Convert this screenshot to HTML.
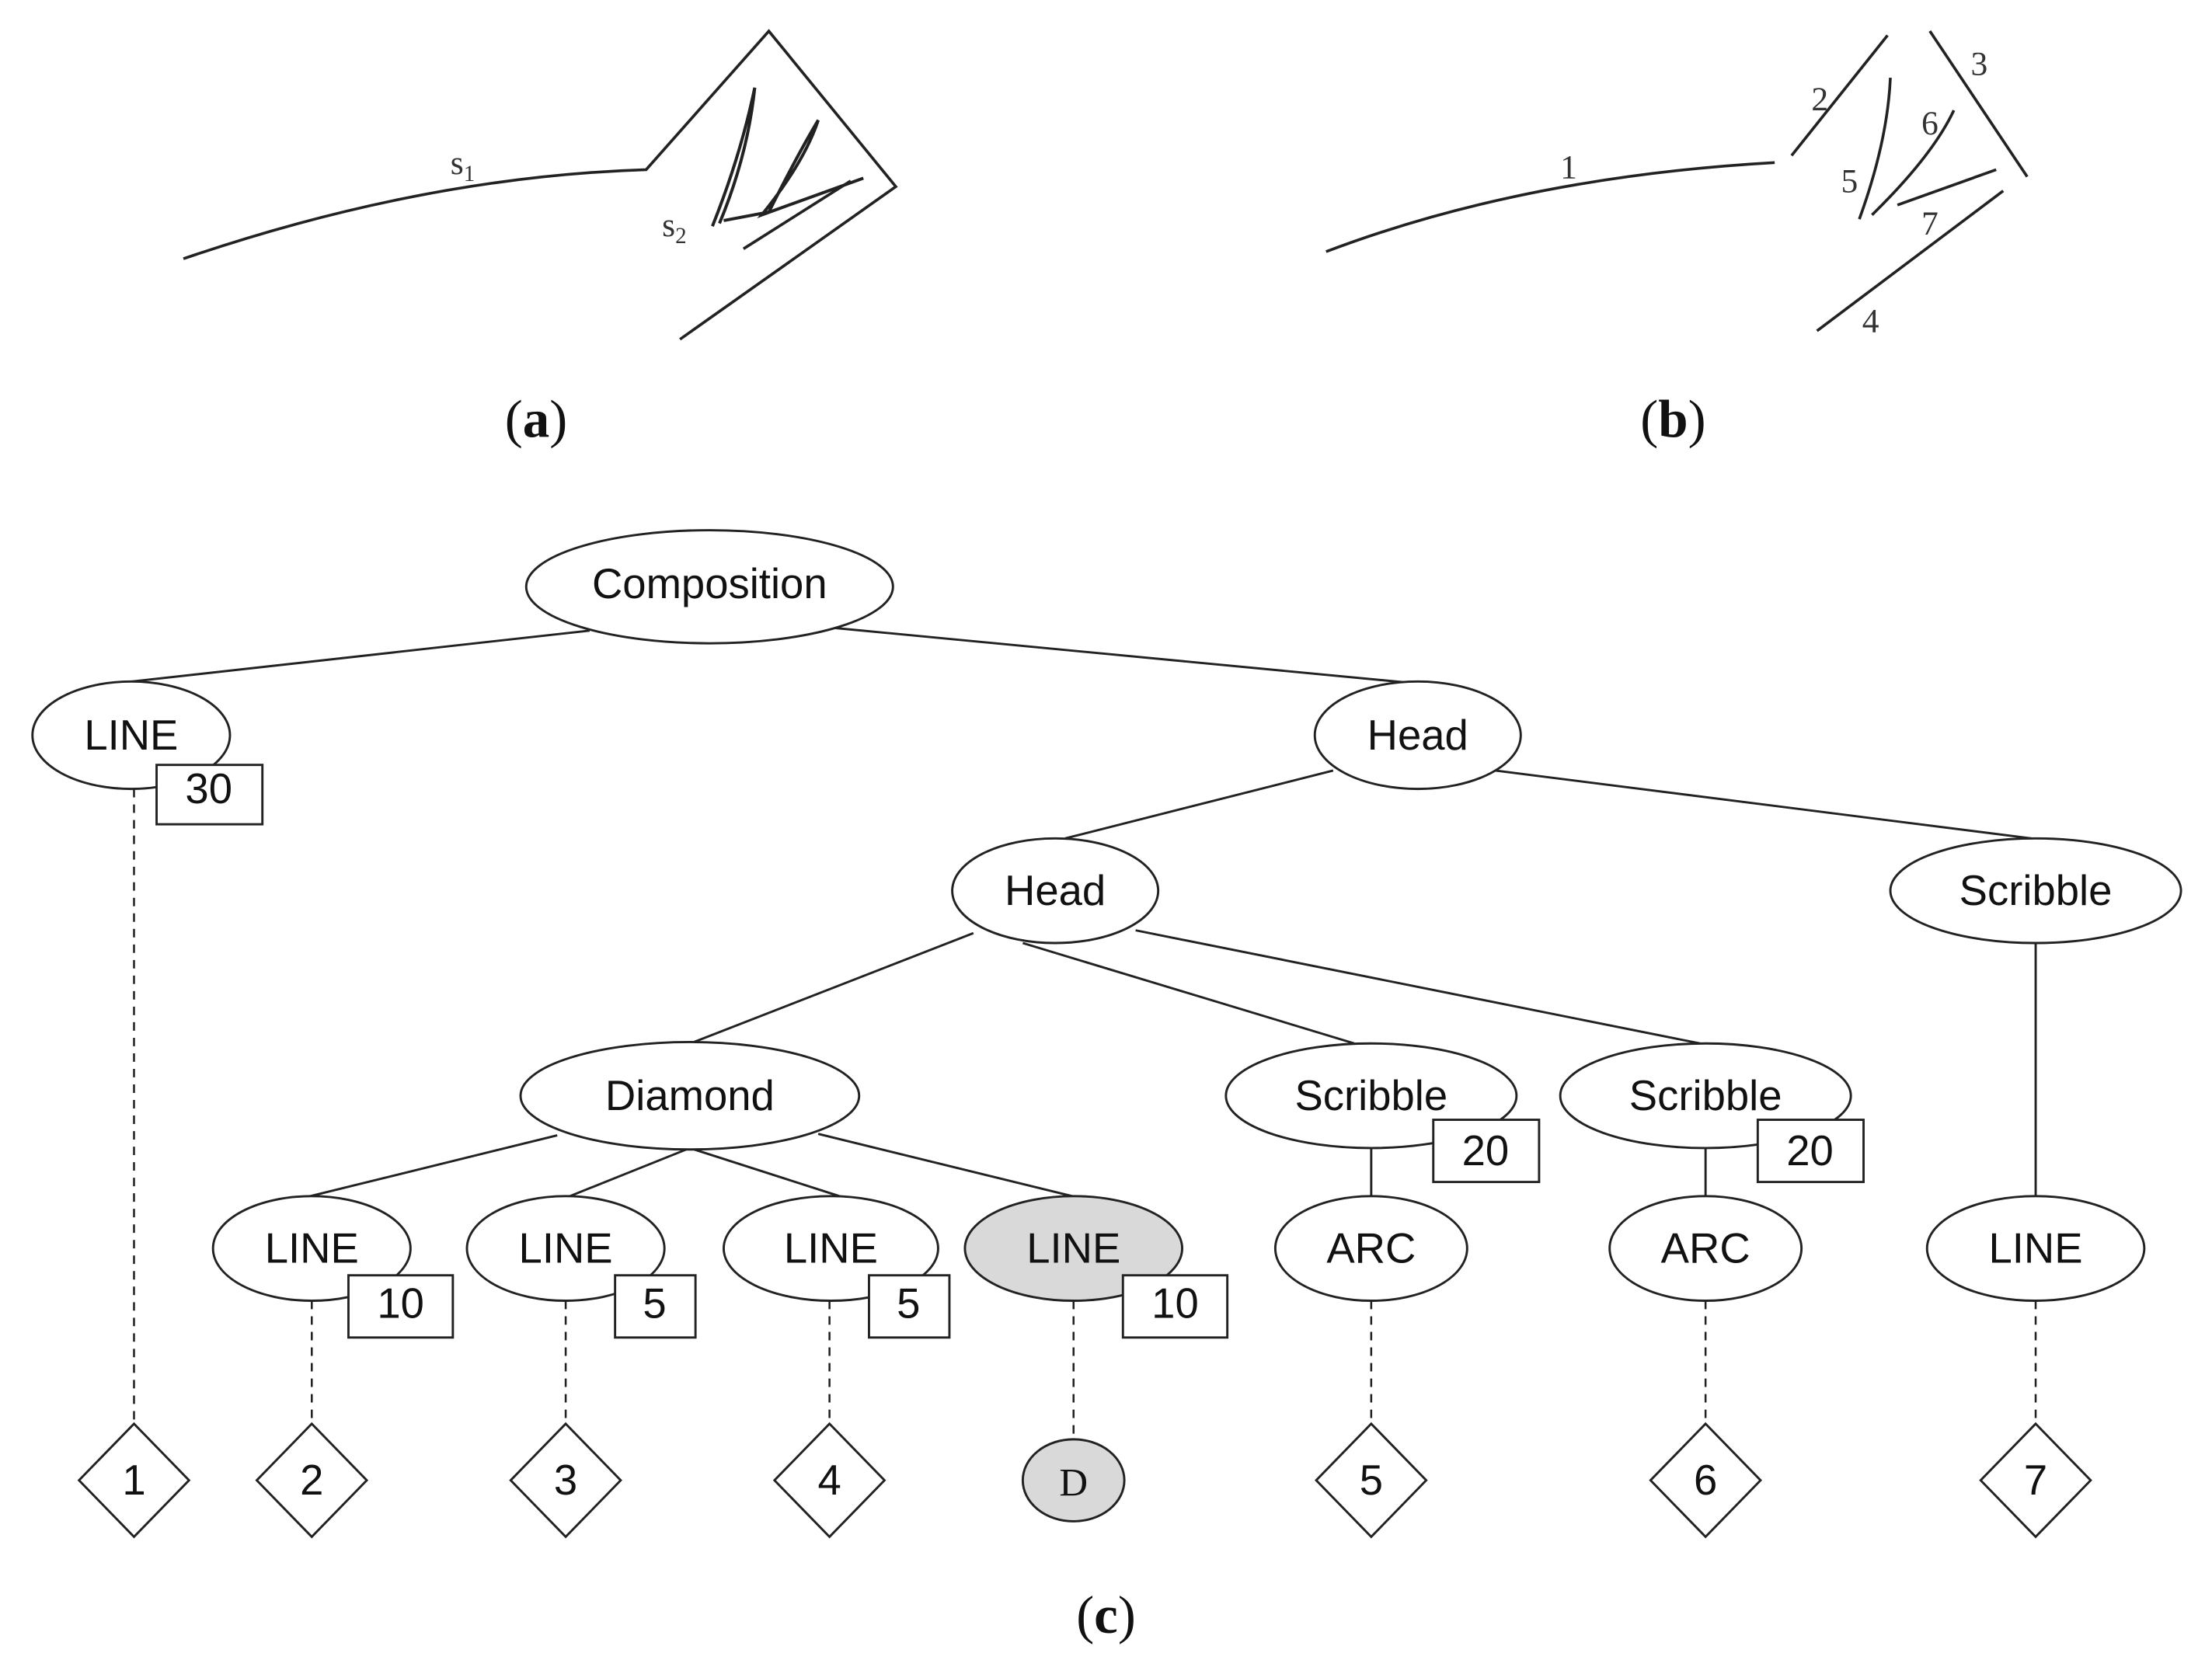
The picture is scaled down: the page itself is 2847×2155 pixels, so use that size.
<!DOCTYPE html>
<html><head><meta charset="utf-8"><style>
html,body{margin:0;padding:0;background:#fff;}
svg{display:block;}
.n{font-family:"Liberation Sans Narrow","Liberation Sans",sans-serif;font-size:30px;fill:#111;text-anchor:middle;dominant-baseline:central;}
.s{font-family:"Liberation Serif",serif;fill:#333;font-size:24px;text-anchor:middle;}
.cap{font-family:"Liberation Serif",serif;font-size:38px;fill:#111;text-anchor:middle;}
</style></head><body>
<svg width="2847" height="2155" viewBox="0 0 1568 1184" preserveAspectRatio="none" xmlns="http://www.w3.org/2000/svg">
<g fill="none" stroke="#222" stroke-width="2">
<!-- sketch a -->
<path d="M130,183 Q300,125 458,120 L545,22 L635,132 L482,240"/>
<path d="M505,160 Q525,110 535,62 Q530,110 510,158 M513,156 L545,150 Q565,110 580,85 Q570,115 540,152 L612,126" stroke-width="2.2"/>
<path d="M527,176 L603,128"/>
<!-- sketch b -->
<path d="M940,178 Q1080,125 1258,115"/>
<path d="M1270,110 L1338,25"/>
<path d="M1368,22 L1437,125"/>
<path d="M1288,234 L1420,135"/>
<path d="M1318,155 Q1338,100 1340,55"/>
<path d="M1327,152 Q1370,110 1385,78"/>
<path d="M1345,145 L1415,120"/>
</g>
<text class="s" x="328" y="123">s<tspan font-size="16" dy="5">1</tspan></text>
<text class="s" x="478" y="167">s<tspan font-size="16" dy="5">2</tspan></text>
<text class="s" x="1112" y="126">1</text>
<text class="s" x="1290" y="78">2</text>
<text class="s" x="1403" y="53">3</text>
<text class="s" x="1326" y="235">4</text>
<text class="s" x="1311" y="136">5</text>
<text class="s" x="1368" y="95">6</text>
<text class="s" x="1368" y="166">7</text>
<text class="cap" x="380" y="309">(<tspan font-weight="bold">a</tspan>)</text>
<text class="cap" x="1186" y="309">(<tspan font-weight="bold">b</tspan>)</text>
<text class="cap" x="784" y="1155">(<tspan font-weight="bold">c</tspan>)</text>

<!-- edges -->
<g stroke="#222" stroke-width="1.6" fill="none">
<path d="M418,446 L85,483"/>
<path d="M590,444 L1000,483"/>
<path d="M945,545 L755,593"/>
<path d="M1060,545 L1440,593"/>
<path d="M690,660 L492,737"/>
<path d="M725,667 L960,738"/>
<path d="M805,658 L1205,738"/>
<path d="M1443,667 L1443,846"/>
<path d="M395,803 L220,846"/>
<path d="M489,812 L404,846"/>
<path d="M489,812 L595,846"/>
<path d="M580,802 L760,846"/>
<path d="M972,812 L972,846"/>
<path d="M1209,812 L1209,846"/>
</g>
<g stroke="#222" stroke-width="1.4" stroke-dasharray="6,5" fill="none">
<path d="M95,558 L95,1007"/>
<path d="M221,920 L221,1007"/>
<path d="M401,920 L401,1007"/>
<path d="M588,920 L588,1007"/>
<path d="M761,920 L761,1019"/>
<path d="M972,920 L972,1007"/>
<path d="M1209,920 L1209,1007"/>
<path d="M1443,920 L1443,1007"/>
</g>
<!-- nodes -->
<g stroke="#222" stroke-width="1.6" fill="#fff">
<ellipse cx="503" cy="415" rx="130" ry="40"/>
<ellipse cx="93" cy="520" rx="70" ry="38"/>
<ellipse cx="1005" cy="520" rx="73" ry="38"/>
<ellipse cx="748" cy="630" rx="73" ry="37"/>
<ellipse cx="1443" cy="630" rx="103" ry="37"/>
<ellipse cx="489" cy="775" rx="120" ry="38"/>
<ellipse cx="972" cy="775" rx="103" ry="37"/>
<ellipse cx="1209" cy="775" rx="103" ry="37"/>
<ellipse cx="221" cy="883" rx="70" ry="37"/>
<ellipse cx="401" cy="883" rx="70" ry="37"/>
<ellipse cx="589" cy="883" rx="76" ry="37"/>
<ellipse cx="761" cy="883" rx="77" ry="37" fill="#d9d9d9"/>
<ellipse cx="972" cy="883" rx="68" ry="37"/>
<ellipse cx="1209" cy="883" rx="68" ry="37"/>
<ellipse cx="1443" cy="883" rx="77" ry="37"/>
<rect x="111" y="541" width="75" height="42"/>
<rect x="1016" y="792" width="75" height="44"/>
<rect x="1246" y="792" width="75" height="44"/>
<rect x="247" y="902" width="74" height="44"/>
<rect x="436" y="902" width="57" height="44"/>
<rect x="616" y="902" width="57" height="44"/>
<rect x="796" y="902" width="74" height="44"/>
<path d="M95,1007 L134,1047 L95,1087 L56,1047 Z"/>
<path d="M221,1007 L260,1047 L221,1087 L182,1047 Z"/>
<path d="M401,1007 L440,1047 L401,1087 L362,1047 Z"/>
<path d="M588,1007 L627,1047 L588,1087 L549,1047 Z"/>
<path d="M972,1007 L1011,1047 L972,1087 L933,1047 Z"/>
<path d="M1209,1007 L1248,1047 L1209,1087 L1170,1047 Z"/>
<path d="M1443,1007 L1482,1047 L1443,1087 L1404,1047 Z"/>
<ellipse cx="761" cy="1047" rx="36" ry="29" fill="#d9d9d9"/>
</g>
<g class="n">
<text x="503" y="413">Composition</text>
<text x="93" y="520">LINE</text>
<text x="148" y="558">30</text>
<text x="1005" y="520">Head</text>
<text x="748" y="630">Head</text>
<text x="1443" y="630">Scribble</text>
<text x="489" y="775">Diamond</text>
<text x="972" y="775">Scribble</text>
<text x="1209" y="775">Scribble</text>
<text x="1053" y="814">20</text>
<text x="1283" y="814">20</text>
<text x="221" y="883">LINE</text>
<text x="401" y="883">LINE</text>
<text x="589" y="883">LINE</text>
<text x="761" y="883">LINE</text>
<text x="972" y="883">ARC</text>
<text x="1209" y="883">ARC</text>
<text x="1443" y="883">LINE</text>
<text x="284" y="922">10</text>
<text x="464" y="922">5</text>
<text x="644" y="922">5</text>
<text x="833" y="922">10</text>
<text x="95" y="1047">1</text>
<text x="221" y="1047">2</text>
<text x="401" y="1047">3</text>
<text x="588" y="1047">4</text>
<text x="972" y="1047">5</text>
<text x="1209" y="1047">6</text>
<text x="1443" y="1047">7</text>
</g>
<text x="761" y="1049" font-family="Liberation Serif,serif" font-size="28" text-anchor="middle" dominant-baseline="central" fill="#111">D</text>
</svg>
</body></html>
